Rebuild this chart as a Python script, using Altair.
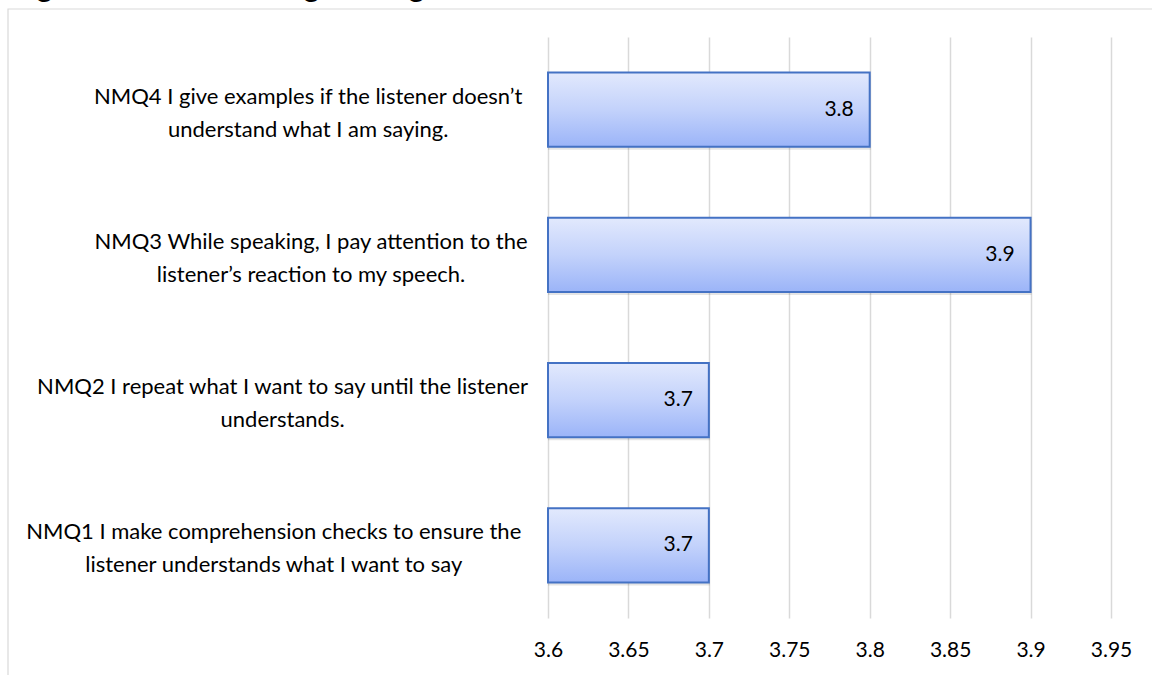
import altair as alt
import pandas as pd

# ---- data ----
questions = [
    "NMQ4 I give examples if the listener doesn’t|understand what I am saying.",
    "NMQ3 While speaking, I pay attention to the|listener’s reaction to my speech.",
    "NMQ2 I repeat what I want to say until the listener|understands.",
    "NMQ1 I make comprehension checks to ensure the|listener understands what I want to say",
]
means = [3.8, 3.9, 3.7, 3.7]
x_ticks = [3.6, 3.65, 3.7, 3.75, 3.8, 3.85, 3.9, 3.95]
title_text = "Negotiation of Meaning Strategies"

df = pd.DataFrame({"question": questions, "mean": means})

FONT = "Lato"
W, H = 563, 581

# approximate width of the first (longest) label line, so that each wrapped
# label block is centred with its right edge next to the axis (Excel-style)
first_line = "split(datum.label, '|')[0]"
narrow = f"length(replace({first_line}, regexp('[^ilIjtfr.,’ ]', 'g'), ''))"
wide = f"length(replace({first_line}, regexp('[^mwMWNQ]', 'g'), ''))"
width_expr = f"(12.3 * length({first_line}) - 6.6 * {narrow} + 4.7 * {wide})"
pad_expr = f"23 + {width_expr} / 2"

x_enc = alt.X(
    "mean:Q",
    scale=alt.Scale(domain=[3.6, 3.95], nice=False, zero=False),
    axis=alt.Axis(
        values=x_ticks,
        title=None,
        labelExpr="format(datum.value, '.2~f')",
        labelFont=FONT,
        labelFontSize=21,
        labelColor="#000000",
        labelPadding=21,
        ticks=False,
        domain=False,
        grid=True,
        gridColor="#d9d9d9",
        gridWidth=1.5,
        labelFlush=False,
    ),
)
y_enc = alt.Y(
    "question:N",
    sort=None,
    scale=alt.Scale(paddingInner=0.49, paddingOuter=0.245),
    axis=alt.Axis(
        title=None,
        labelExpr="split(datum.label, '|')",
        labelFont=FONT,
        labelFontSize=22,
        labelColor="#000000",
        labelAlign="center",
        labelBaseline="middle",
        labelLineHeight=33,
        labelOffset=-13,
        labelPadding={"expr": pad_expr},
        labelLimit=0,
        ticks=False,
        domain=False,
        grid=False,
    ),
)

base = alt.Chart(df)

shadow = base.mark_bar(color="#000000", opacity=0.10, yOffset=3, xOffset=1).encode(
    x=x_enc, x2=alt.datum(3.6), y=y_enc
)

bars = base.mark_bar(
    color=alt.Gradient(
        gradient="linear",
        x1=0, y1=0, x2=0, y2=1,
        stops=[
            alt.GradientStop(color="#e2e9fd", offset=0),
            alt.GradientStop(color="#c3d2fb", offset=0.5),
            alt.GradientStop(color="#9bb4f8", offset=1),
        ],
    ),
    stroke="#4472c4",
    strokeWidth=2,
).encode(x=x_enc, x2=alt.datum(3.6), y=y_enc)

labels = base.mark_text(
    align="right", baseline="middle", dx=-16, font=FONT, fontSize=21, color="#000000"
).encode(x=x_enc, y=y_enc, text=alt.Text("mean:Q", format=".1f"))

frame_df = pd.DataFrame({"k": [0]})
frame = alt.Chart(frame_df).mark_rect(
    fill="transparent", stroke="#d9d9d9", strokeWidth=1.2
).encode(
    x=alt.value(-540), x2=alt.value(W + 200), y=alt.value(-28), y2=alt.value(H + 200)
)

title_df = pd.DataFrame({"t": [title_text]})
title = alt.Chart(title_df).mark_text(
    align="left", baseline="alphabetic", font=FONT, fontSize=31, color="#000000"
).encode(x=alt.value(-551), y=alt.value(-40.5), text="t:N")

chart = (
    alt.layer(frame, title, shadow, bars, labels)
    .properties(
        width=W,
        height=H,
        padding={"left": 548, "top": 37, "right": 1152 - 548 - W, "bottom": 675 - 37 - H},
        autosize=alt.AutoSizeParams(type="none"),
        background="white",
    )
    .configure_view(stroke=None)
)

chart.save("out.html", embed_options={"renderer": "svg", "actions": False})
